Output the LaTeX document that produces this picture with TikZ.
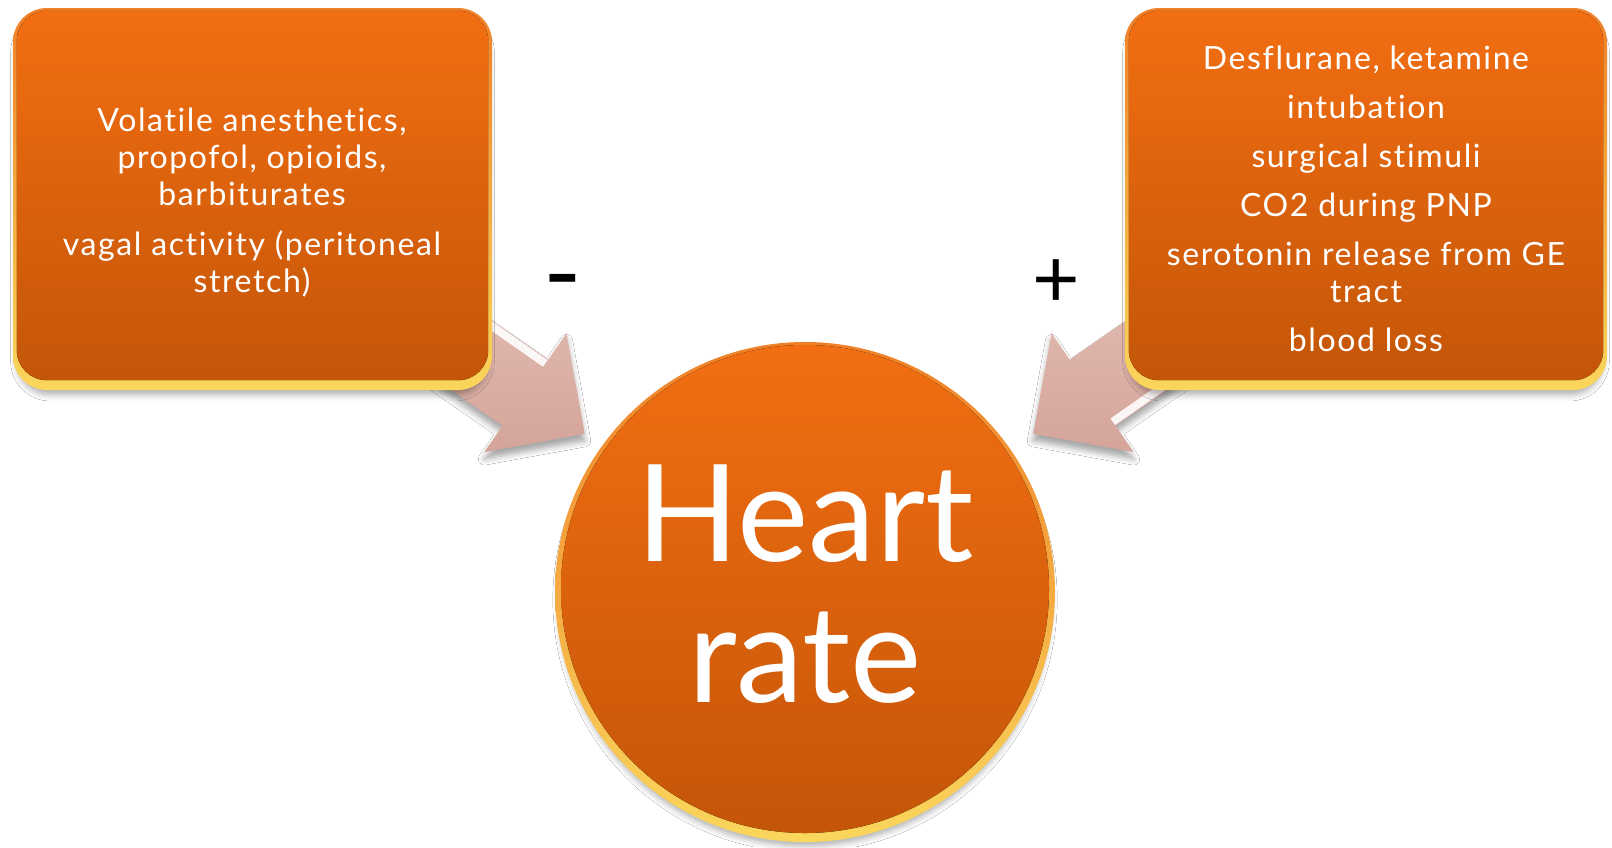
\documentclass[tikz,border=0pt]{standalone}
\usepackage{fontspec}
\setmainfont{Lato}
\newfontfamily\bodyfont{Lato}[LetterSpace=5, RawFeature={-liga;-dlig}]
\newfontfamily\bigfont{Lato}[RawFeature={-liga;-dlig}]
\usetikzlibrary{shapes.arrows,shadows.blur}

\definecolor{rimtop}{RGB}{240,128,40}
\definecolor{rimmid}{RGB}{206,92,12}
\definecolor{rimbot}{RGB}{250,214,92}
\definecolor{facetop}{RGB}{242,110,18}
\definecolor{facebot}{RGB}{196,86,8}
\definecolor{arrowtop}{RGB}{228,190,180}
\definecolor{arrowbot}{RGB}{212,164,154}

\tikzset{
  panel/.style={rectangle, rounded corners=34pt, inner sep=0pt,
    top color=rimtop, middle color=rimmid, bottom color=rimbot,
    blur shadow={shadow xshift=0pt, shadow yshift=-8pt, shadow scale=0.985,
      shadow blur radius=6pt, shadow opacity=30}},
  face/.style={top color=facetop, bottom color=facebot},
  disc/.style={circle, inner sep=0pt, minimum size=500pt,
    top color=rimtop, middle color=rimmid, bottom color=rimbot,
    blur shadow={shadow xshift=0pt, shadow yshift=-8pt, shadow scale=0.985,
      shadow blur radius=6pt, shadow opacity=30}},
  blockarrow/.style={single arrow, inner xsep=0pt, inner ysep=40pt,
    minimum height=222pt, anchor=tip,
    single arrow head extend=32pt, single arrow tip angle=90,
    top color=arrowtop, bottom color=arrowbot,
    blur shadow={shadow xshift=0pt, shadow yshift=-7pt,
      shadow blur radius=6pt, shadow opacity=35}},
  gloss/.style={white, line width=8pt, opacity=.9},
  bodytext/.style={text=white, align=center,
    font=\bodyfont\fontsize{32}{37}\selectfont},
  bigtext/.style={text=white, align=center,
    font=\bigfont\fontsize{135}{141}\selectfont},
  signtext/.style={text=black, font=\bigfont\fontsize{82}{82}\selectfont},
}

\begin{document}
\begin{tikzpicture}[x=1pt, y=-1pt]
\useasboundingbox (0,0) rectangle (1612,847);
\fill[white] (0,0) rectangle (1612,847);

% block arrows, tails tucked under the panels
\node[blockarrow, rotate=-34.7] (la) at (585,434) {};
\node[blockarrow, rotate=-145.3] (ra) at (1033,434) {};
% bevel gloss along one shaft edge
\draw[gloss] ([shift={(-3,4)}]la.before head) -- ([shift={(-126,-82)}]la.before head);
\draw[gloss] ([shift={(-3,-4)}]ra.before head) -- ([shift={(120,-90)}]ra.before head);

% left panel
\node[panel, minimum width=479pt, minimum height=382pt] (lbox) at (252.5,199) {};
\fill[face, rounded corners=30pt] ([shift={(4,3)}]lbox.north west)
  rectangle ([shift={(-4,-10)}]lbox.south east);
\node[bodytext] (lt) at (252,203) {Volatile anesthetics,\\propofol, opioids,\\barbiturates\\[13pt]vagal activity (peritoneal\\stretch)};

% right panel
\node[panel, minimum width=482pt, minimum height=382pt] (rbox) at (1366,199) {};
\fill[face, rounded corners=30pt] ([shift={(4,3)}]rbox.north west)
  rectangle ([shift={(-4,-10)}]rbox.south east);
\node[bodytext] (rt) at (1366,199) {Desflurane, ketamine\\[12pt]intubation\\[12pt]surgical stimuli\\[12pt]CO2 during PNP\\[12pt]serotonin release from GE\\tract\\[12pt]blood loss};

% central disc
\node[disc] (hr) at (805,592) {};
\fill[face] ([yshift=3pt]hr.center) circle[radius=244pt];
\node[bigtext] (hrt) at (805,584) {Heart\\rate};

% signs
\node[signtext, font=\bigfont\fontsize{104}{104}\selectfont] (mn) at (563,292) {-};
\node[signtext] (pl) at (1056,284) {+};
\end{tikzpicture}
\end{document}
